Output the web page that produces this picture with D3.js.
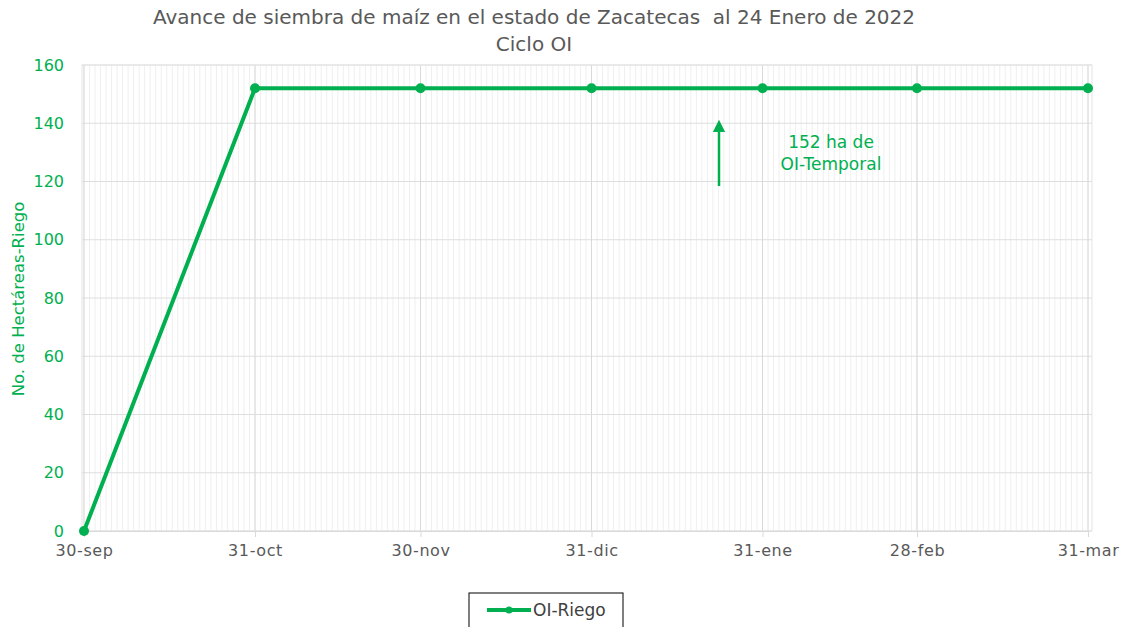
<!DOCTYPE html>
<html>
<head>
<meta charset="utf-8">
<script src="https://cdn.jsdelivr.net/npm/d3@7"></script>
<style>
  body { margin: 0; background: #fff; }
  svg { font-family: "DejaVu Sans", "Noto Sans", sans-serif; }
</style>
</head>
<body>
<svg id="chart"></svg>
<script>
// Data
const dates = ["2021-09-30", "2021-10-31", "2021-11-30", "2021-12-31", "2022-01-31", "2022-02-28", "2022-03-31"];
const riego = [0, 152, 152, 152, 152, 152, 152];
const monthNames = ["ene", "feb", "mar", "abr", "may", "jun", "jul", "ago", "sep", "oct", "nov", "dic"];
const yTicks = [0, 20, 40, 60, 80, 100, 120, 140, 160];

const parseDate = d3.timeParse("%Y-%m-%d");
const data = dates.map((d, i) => ({ date: parseDate(d), value: riego[i] }));

const width = 1125, height = 627;
const green = "#00B050";
const grey = "#595959";

const svg = d3.select("#chart").attr("width", width).attr("height", height);

// Plot box
const box = { left: 82, right: 1092, top: 65, bottom: 531 };

const x = d3.scaleTime()
    .domain([data[0].date, data[data.length - 1].date])
    .range([84, 1088]);

const y = d3.scaleLinear()
    .domain([0, 160])
    .range([box.bottom, box.top]);

// Minor daily gridlines
const days = d3.timeDay.range(data[0].date, d3.timeDay.offset(data[data.length - 1].date, 1));
svg.append("g")
    .selectAll("line")
    .data(days)
    .join("line")
    .attr("x1", d => x(d)).attr("x2", d => x(d))
    .attr("y1", box.top).attr("y2", box.bottom)
    .attr("stroke", "#efefef")
    .attr("stroke-width", 1);

// Horizontal gridlines
svg.append("g")
    .selectAll("line")
    .data(yTicks)
    .join("line")
    .attr("x1", box.left).attr("x2", box.right)
    .attr("y1", d => y(d)).attr("y2", d => y(d))
    .attr("stroke", "#dedede")
    .attr("stroke-width", 1);

// Major vertical gridlines
svg.append("g")
    .selectAll("line")
    .data(data.map(d => d.date))
    .join("line")
    .attr("x1", d => x(d)).attr("x2", d => x(d))
    .attr("y1", box.top).attr("y2", box.bottom)
    .attr("stroke", "#d9d9d9")
    .attr("stroke-width", 1);

// Plot border
svg.append("rect")
    .attr("x", box.left).attr("y", box.top)
    .attr("width", box.right - box.left).attr("height", box.bottom - box.top)
    .attr("fill", "none")
    .attr("stroke", "#e3e3e3");

// X axis
const xAxis = d3.axisBottom(x)
    .tickValues(data.map(d => d.date))
    .tickSize(6)
    .tickPadding(8)
    .tickFormat(d => d3.timeFormat("%d")(d) + "-" + monthNames[d.getMonth()]);
const gx = svg.append("g")
    .attr("transform", `translate(0,${box.bottom})`)
    .call(xAxis);
gx.select(".domain").attr("stroke", "#d9d9d9");
gx.selectAll(".tick line").attr("stroke", "#d9d9d9");
gx.selectAll("text").attr("fill", grey)
    .style("font-size", "16px").style("letter-spacing", "0.6px")
    .style("font-family", "DejaVu Sans");

// Y axis
const yAxis = d3.axisLeft(y)
    .tickValues(yTicks)
    .tickSize(0)
    .tickPadding(18);
const gy = svg.append("g")
    .attr("transform", `translate(${box.left},0)`)
    .call(yAxis);
gy.select(".domain").remove();
gy.selectAll("text").attr("fill", green)
    .style("font-size", "16px").style("font-family", "DejaVu Sans");

// Line
const line = d3.line().x(d => x(d.date)).y(d => y(d.value));
svg.append("path")
    .datum(data)
    .attr("d", line)
    .attr("fill", "none")
    .attr("stroke", green)
    .attr("stroke-width", 4)
    .attr("stroke-linejoin", "round");

svg.append("g")
    .selectAll("circle")
    .data(data)
    .join("circle")
    .attr("cx", d => x(d.date))
    .attr("cy", d => y(d.value))
    .attr("r", 5)
    .attr("fill", green);

// Title
svg.append("text")
    .attr("x", 534).attr("y", 24)
    .attr("text-anchor", "middle")
    .attr("fill", grey)
    .style("font-size", "20px")
    .attr("xml:space", "preserve")
    .text("Avance de siembra de maíz en el estado de Zacatecas  al 24 Enero de 2022");
svg.append("text")
    .attr("x", 534).attr("y", 51)
    .attr("text-anchor", "middle")
    .attr("fill", grey)
    .style("font-size", "20px")
    .text("Ciclo OI");

// Y axis title
svg.append("text")
    .attr("transform", "rotate(-90)")
    .attr("x", -299).attr("y", 24)
    .attr("text-anchor", "middle")
    .attr("fill", green)
    .style("font-size", "16.5px")
    .text("No. de Hectáreas-Riego");

// Annotation arrow
const defs = svg.append("defs");
defs.append("marker")
    .attr("id", "arrow")
    .attr("viewBox", "0 0 10 10")
    .attr("refX", 5).attr("refY", 5)
    .attr("markerWidth", 5).attr("markerHeight", 5)
    .attr("orient", "auto")
    .append("path")
    .attr("d", "M0,0 L10,5 L0,10 z")
    .attr("fill", green);
svg.append("line")
    .attr("x1", 719).attr("x2", 719)
    .attr("y1", 186).attr("y2", 126)
    .attr("stroke", green)
    .attr("stroke-width", 2.5)
    .attr("marker-end", "url(#arrow)");

svg.append("text")
    .attr("x", 831).attr("y", 148)
    .attr("text-anchor", "middle")
    .attr("fill", green)
    .style("font-size", "17px")
    .text("152 ha de");
svg.append("text")
    .attr("x", 831).attr("y", 170)
    .attr("text-anchor", "middle")
    .attr("fill", green)
    .style("font-size", "17px")
    .text("OI-Temporal");

// Legend
const legend = svg.append("g").attr("transform", "translate(469,593)");
legend.append("rect")
    .attr("width", 154).attr("height", 40)
    .attr("fill", "#fff")
    .attr("stroke", "#000")
    .attr("stroke-width", 1);
legend.append("line")
    .attr("x1", 18).attr("x2", 62)
    .attr("y1", 17).attr("y2", 17)
    .attr("stroke", green)
    .attr("stroke-width", 4);
legend.append("circle")
    .attr("cx", 40).attr("cy", 17).attr("r", 3.5)
    .attr("fill", green);
legend.append("text")
    .attr("x", 64).attr("y", 23)
    .attr("fill", "#404040")
    .style("font-size", "17px")
    .text("OI-Riego");
</script>
</body>
</html>
